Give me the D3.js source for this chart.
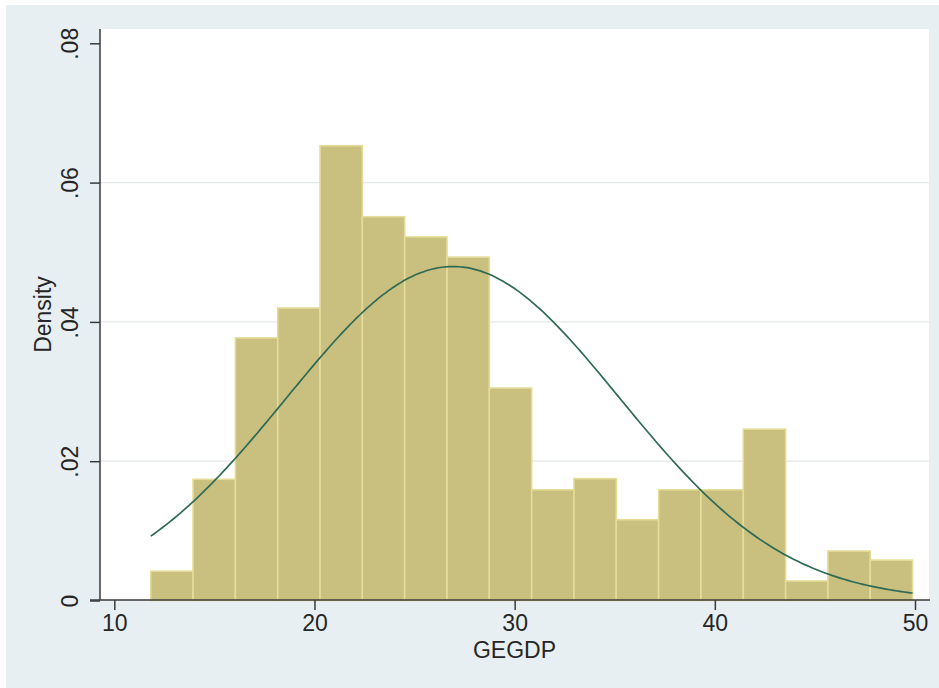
<!DOCTYPE html>
<html>
<head>
<meta charset="utf-8">
<script src="https://cdn.jsdelivr.net/npm/d3@7"></script>
<style>
  html, body { margin: 0; padding: 0; background: #ffffff; }
  svg { display: block; }
  text { font-family: "Liberation Sans", Arial, Helvetica, sans-serif; fill: #262626; }
</style>
</head>
<body>
<svg id="chart" width="939" height="688"></svg>
<script>
// Histogram of GEGDP (density scale), 18 equal-width bins
const binStart = 11.82;
const binWidth = 2.1144;
const densities = [0.0042, 0.0174, 0.0377, 0.0420, 0.0653, 0.0551, 0.0522, 0.0493, 0.0305,
                   0.0159, 0.0175, 0.0116, 0.0159, 0.0159, 0.0246, 0.0028, 0.0071, 0.0058];

// Fitted normal density overlay
const normalMean = 26.92;
const normalSd = 8.32;
const dataMin = 11.82;
const dataMax = 49.88;

// Axis ticks
const xTicks = [10, 20, 30, 40, 50];
const yTicks = [0, 0.02, 0.04, 0.06, 0.08];
const yTickLabels = ["0", ".02", ".04", ".06", ".08"];
const gridValues = [0.02, 0.04, 0.06];

const svg = d3.select("#chart");
const W = 939, H = 688;

// Outer graph region
svg.append("rect").attr("x", 6).attr("y", 5).attr("width", W - 6).attr("height", H - 5)
  .attr("fill", "#e8eff2");

const plot = { left: 100, right: 929, top: 29, bottom: 600 };

// Plot region
svg.append("rect")
  .attr("x", plot.left).attr("y", plot.top)
  .attr("width", plot.right - plot.left).attr("height", plot.bottom - plot.top)
  .attr("fill", "#ffffff");

const x = d3.scaleLinear().domain([10, 50]).range([114.3, 915]);
const y = d3.scaleLinear().domain([0, 0.08]).range([600.5, 43.3]);

// Grid lines
svg.append("g").selectAll("line").data(gridValues).join("line")
  .attr("x1", plot.left).attr("x2", plot.right)
  .attr("y1", d => y(d)).attr("y2", d => y(d))
  .attr("stroke", "#e4e8e9").attr("stroke-width", 1.2);

// Bars
const bins = densities.map((d, i) => ({ x0: binStart + i * binWidth, x1: binStart + (i + 1) * binWidth, d }));
svg.append("g").selectAll("rect").data(bins).join("rect")
  .attr("x", b => x(b.x0))
  .attr("y", b => y(b.d))
  .attr("width", b => x(b.x1) - x(b.x0))
  .attr("height", b => y(0) - y(b.d))
  .attr("fill", "#c9bf7e")
  .attr("stroke", "#e4dc98")
  .attr("stroke-width", 1.6);

// Normal density curve
const pdf = v => Math.exp(-0.5 * Math.pow((v - normalMean) / normalSd, 2)) / (normalSd * Math.sqrt(2 * Math.PI));
const curveX = d3.range(0, 201).map(i => dataMin + (dataMax - dataMin) * i / 200);
const line = d3.line().x(v => x(v)).y(v => y(pdf(v))).curve(d3.curveMonotoneX);
svg.append("path").datum(curveX)
  .attr("d", line)
  .attr("fill", "none")
  .attr("stroke", "#2f6a55")
  .attr("stroke-width", 1.7);

// Y axis
const yAxis = d3.axisLeft(y).tickValues(yTicks)
  .tickFormat((d, i) => yTickLabels[i]).tickSize(10).tickPadding(0);
const gy = svg.append("g").attr("transform", `translate(${plot.left},0)`).call(yAxis);
gy.select(".domain").attr("d", `M0,${plot.top}V${plot.bottom}`)
  .attr("stroke", "#3a3a3a").attr("stroke-width", 1.5);
gy.selectAll(".tick line").attr("stroke", "#3a3a3a").attr("stroke-width", 1.5);
gy.selectAll(".tick text")
  .attr("x", 0).attr("y", 0).attr("dy", null)
  .attr("transform", "translate(-22,0) rotate(-90)")
  .attr("text-anchor", "middle")
  .style("font-size", "23px").style("font-family", "'Liberation Sans', Arial, sans-serif")
  .attr("fill", "#262626");

// X axis
const xAxis = d3.axisBottom(x).tickValues(xTicks).tickSize(10).tickPadding(4);
const gx = svg.append("g").attr("transform", `translate(0,${plot.bottom})`).call(xAxis);
gx.select(".domain").attr("d", `M${plot.left - 10},0H${plot.right + 1}`)
  .attr("stroke", "#3a3a3a").attr("stroke-width", 1.5);
gx.selectAll(".tick line").attr("stroke", "#3a3a3a").attr("stroke-width", 1.5);
gx.selectAll(".tick text")
  .attr("y", 0).attr("dy", null)
  .attr("transform", "translate(0,31)")
  .style("font-size", "23px").style("font-family", "'Liberation Sans', Arial, sans-serif")
  .attr("fill", "#262626");

// Axis titles
svg.append("text")
  .attr("x", (plot.left + plot.right) / 2).attr("y", 658)
  .attr("text-anchor", "middle")
  .style("font-size", "23px")
  .text("GEGDP");

svg.append("text")
  .attr("transform", `translate(51,${(plot.top + plot.bottom) / 2}) rotate(-90)`)
  .attr("text-anchor", "middle")
  .style("font-size", "23px")
  .text("Density");
</script>
</body>
</html>
